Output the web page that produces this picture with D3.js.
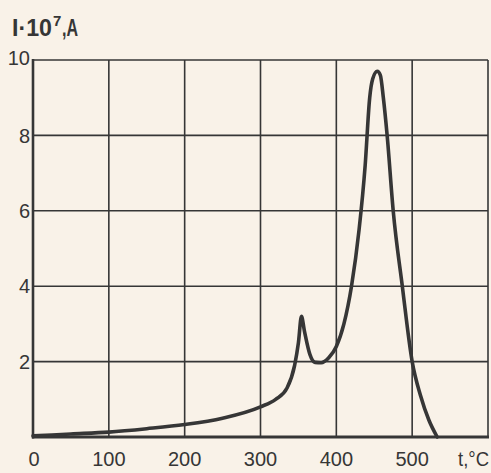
<!DOCTYPE html>
<html><head><meta charset="utf-8">
<script src="https://cdn.jsdelivr.net/npm/d3@7"></script>
<style>html,body{margin:0;padding:0;background:#f9f2e8;}svg{display:block;}</style>
</head><body>
<svg id="c" width="491" height="473"></svg>
<script>
const temperature = [0,50,100,150,200,250,300,320,335,345,350,354,358,365,372,380,390,400,410,420,430,438,444,448,454,458,462,467,475,487,500,511,522,533];
const current     = [0.03,0.08,0.13,0.22,0.33,0.5,0.8,1.0,1.3,1.9,2.5,3.2,2.8,2.2,1.98,1.97,2.1,2.4,3.0,4.0,5.5,7.2,9.0,9.5,9.7,9.6,9.0,8.0,6.0,4.0,2.0,1.1,0.45,0.0];
const xTicks = [0,100,200,300,400,500];
const yTicks = [2,4,6,8,10];

const svg = d3.select("#c");
const x = d3.scaleLinear().domain([0,600]).range([33,488]);
const y = d3.scaleLinear().domain([0,10]).range([437,60]);
const ink = "#363636";
const font = "'Liberation Sans', Arial, sans-serif";

// grid
svg.append("g").selectAll("line").data(xTicks.filter(d=>d>0).concat([600])).join("line")
  .attr("x1",d=>x(d)).attr("x2",d=>x(d)).attr("y1",y(0)).attr("y2",y(10))
  .attr("stroke",ink).attr("stroke-width",1.6);
svg.append("g").selectAll("line").data(yTicks).join("line")
  .attr("x1",x(0)).attr("x2",x(600)).attr("y1",d=>y(d)).attr("y2",d=>y(d))
  .attr("stroke",ink).attr("stroke-width",1.6);
// frame left & bottom
svg.append("line").attr("x1",x(0)).attr("x2",x(0)).attr("y1",y(0)+1.5).attr("y2",y(10)-1)
  .attr("stroke",ink).attr("stroke-width",2.6);
svg.append("line").attr("x1",x(0)-1).attr("x2",x(600)+1).attr("y1",y(0)).attr("y2",y(0))
  .attr("stroke",ink).attr("stroke-width",3);

// curve
const line = d3.line().x((d,i)=>x(temperature[i])).y((d,i)=>y(current[i])).curve(d3.curveMonotoneX);
svg.append("path").datum(current).attr("d",line).attr("fill","none")
  .attr("stroke",ink).attr("stroke-width",3.6).attr("stroke-linejoin","round").attr("stroke-linecap","round");

// axis labels
svg.append("g").selectAll("text").data(xTicks).join("text")
  .attr("x",d=>x(d)+(d===0?1:0)).attr("y",466).attr("text-anchor","middle")
  .attr("font-family",font).attr("font-size",20).attr("fill",ink).text(d=>d);
svg.append("g").selectAll("text").data(yTicks).join("text")
  .attr("x",30).attr("y",d=>y(d)+(d===10?-2:0)).attr("dy","0.36em").attr("text-anchor","end")
  .attr("font-family",font).attr("font-size",20).attr("fill",ink).text(d=>d);

svg.append("text").attr("x",458).attr("y",466).attr("font-family",font).attr("font-size",20)
  .attr("textLength",31).attr("lengthAdjust","spacingAndGlyphs")
  .attr("fill",ink).text("t,°C");

// y-axis title (split to keep superscript clear)
svg.append("text").attr("x",12).attr("y",36).attr("font-family",font)
  .attr("font-size",24).attr("font-weight","bold").attr("fill",ink)
  .attr("textLength",40).attr("lengthAdjust","spacingAndGlyphs").text("I·10");
svg.append("text").attr("x",53).attr("y",26).attr("font-family",font)
  .attr("font-size",15).attr("font-weight","bold").attr("fill",ink).text("7");
svg.append("text").attr("x",62).attr("y",36).attr("font-family",font)
  .attr("font-size",24).attr("font-weight","bold").attr("fill",ink)
  .attr("textLength",16).attr("lengthAdjust","spacingAndGlyphs").text(",A");
</script>
</body></html>
